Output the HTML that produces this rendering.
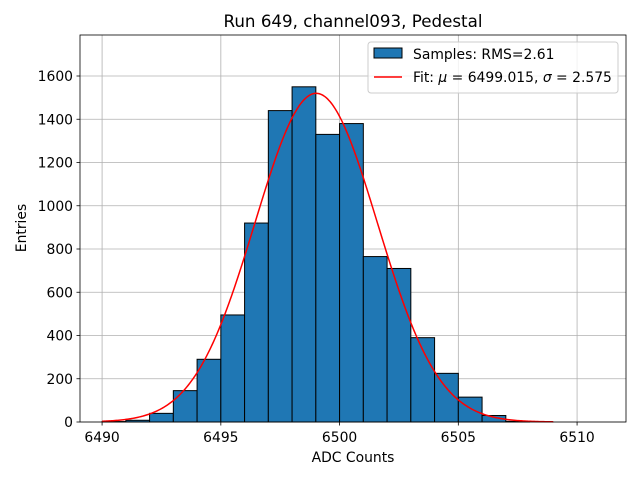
<!DOCTYPE html>
<html><head><meta charset="utf-8"><style>
body{margin:0;background:#fff;font-family:"DejaVu Sans","Liberation Sans",sans-serif;}
text{font-family:"DejaVu Sans","Liberation Sans",sans-serif;}
</style></head><body>
<svg id="c" width="640" height="480" xmlns="http://www.w3.org/2000/svg"></svg>
<script>
const binEdgesStart = [6490,6491,6492,6493,6494,6495,6496,6497,6498,6499,6500,6501,6502,6503,6504,6505,6506,6507];
const counts = [2,8,40,145,290,495,920,1440,1550,1330,1380,765,710,390,225,115,30,3];
const fitParams = [1520, 6499.015, 2.575];
const xTicks = [6490,6495,6500,6505,6510];
const yTicks = [0,200,400,600,800,1000,1200,1400,1600];
const NS="http://www.w3.org/2000/svg";
const svg=document.getElementById('c');
const L=80,R=626,T=35,B=422,xmin=6489.07,xmax=6512.06,ymax=1789.6;
const sx=v=>L+(v-xmin)/(xmax-xmin)*(R-L);
const sy=v=>B-v/ymax*(B-T);
function mk(tag,attrs,parent){const e=document.createElementNS(NS,tag);for(const k in attrs)e.setAttribute(k,attrs[k]);(parent||svg).appendChild(e);return e;}
const grid=mk('g',{});


xTicks.forEach(t=>mk('line',{x1:sx(t),x2:sx(t),y1:T,y2:B,stroke:'#b0b0b0','stroke-width':0.8},grid));
yTicks.forEach(t=>mk('line',{x1:L,x2:R,y1:sy(t),y2:sy(t),stroke:'#b0b0b0','stroke-width':0.8},grid));
const bars=mk('g',{});


counts.forEach((c,i)=>{const x0=sx(binEdgesStart[i]),x1=sx(binEdgesStart[i]+1);
const r=mk('rect',{x:x0,y:sy(c),width:x1-x0,height:B-sy(c),fill:'#1f77b4',stroke:'#000','stroke-width':1},bars);

});
let d='';const [A,mu,sg]=fitParams;
for(let i=0;i<=380;i++){const x=6490+i*19/380;const y=A*Math.exp(-0.5*((x-mu)/sg)**2);d+=(i?'L':'M')+sx(x).toFixed(2)+','+sy(y).toFixed(2);}
const fit=mk('path',{d:d,fill:'none',stroke:'#ff0000','stroke-width':1.5});


const frame=mk('rect',{x:L,y:T,width:R-L,height:B-T,fill:'none',stroke:'#000','stroke-width':0.8});


const xa=mk('g',{});


xTicks.forEach(t=>{mk('line',{x1:sx(t),x2:sx(t),y1:B,y2:B+3.5,stroke:'#000','stroke-width':0.8},xa);
const tx=mk('text',{x:sx(t),y:B+20,'text-anchor':'middle','font-size':13.9},xa);tx.textContent=t;});
const ya=mk('g',{});


yTicks.forEach(t=>{mk('line',{x1:L-3.5,x2:L,y1:sy(t),y2:sy(t),stroke:'#000','stroke-width':0.8},ya);
const tx=mk('text',{x:L-7,y:sy(t)+5,'text-anchor':'end','font-size':13.9},ya);tx.textContent=t;});
</script>
<svg width="640" height="480" style="position:absolute;left:0;top:0" xmlns="http://www.w3.org/2000/svg">
<text x="353" y="27" text-anchor="middle" font-size="16.7">Run 649, channel093, Pedestal</text>
<text x="353" y="462" text-anchor="middle" font-size="13.9">ADC Counts</text>
<text x="26" y="228" text-anchor="middle" font-size="13.9" transform="rotate(-90 26 228)">Entries</text>
<g>
<rect x="368" y="42" width="250" height="51" rx="3" fill="#fff" fill-opacity="0.8" stroke="#ccc"/>
<rect x="374" y="48" width="28" height="10" fill="#1f77b4" stroke="#000"/>
<text x="413" y="59" font-size="13.9">Samples: RMS=2.61</text>
<line x1="374" y1="77" x2="402" y2="77" stroke="#ff0000" stroke-width="1.5"/>
<text x="413" y="82" font-size="13.9">Fit: <tspan font-style="italic">μ</tspan> = 6499.015, <tspan font-style="italic">σ</tspan> = 2.575</text>
</g>
</svg>
</body></html>
